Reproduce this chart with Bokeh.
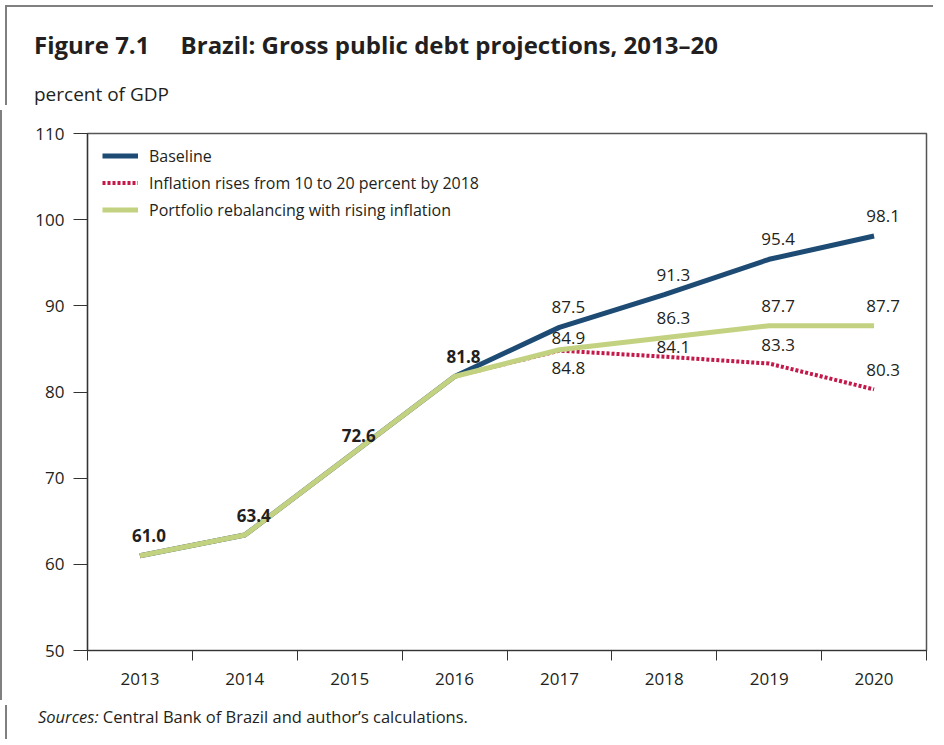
from bokeh.plotting import figure
from bokeh.models import FixedTicker, Legend, LegendItem, Div
from bokeh.layouts import column
from bokeh.core.properties import value
from bokeh.embed import file_html
from bokeh.resources import INLINE

years = ["2013", "2014", "2015", "2016", "2017", "2018", "2019", "2020"]
baseline = [61.0, 63.4, 72.6, 81.8, 87.5, 91.3, 95.4, 98.1]
inflation = [61.0, 63.4, 72.6, 81.8, 84.8, 84.1, 83.3, 80.3]
portfolio = [61.0, 63.4, 72.6, 81.8, 84.9, 86.3, 87.7, 87.7]
y_ticks = [50, 60, 70, 80, 90, 100, 110]
series_names = ["Baseline",
                "Inflation rises from 10 to 20 percent by 2018",
                "Portfolio rebalancing with rising inflation"]
title_text = "Figure 7.1     Brazil: Gross public debt projections, 2013–20"
unit_text = "percent of GDP"
source_label = "Sources:"
source_text = "Central Bank of Brazil and author’s calculations."

FONT = "Open Sans"
TXT = "#231f20"
NAVY = "#1d4b74"
RED = "#c2184a"
GREEN = "#c3d281"
BORDER = "2px solid #808080"

xs = [i + 0.5 for i in range(len(years))]

W = 928
HEAD_H, FIG_H, SRC_H = 100, 590, 34

header = Div(width=W, height=HEAD_H,
             styles={"border-top": BORDER, "border-left": BORDER},
             text=(
    f'<div style="padding:23px 0 0 27px; font-family:\'{FONT}\'; font-weight:bold; '
    f'font-size:24px; line-height:30px; color:{TXT}; white-space:pre; margin:0">{title_text}</div>'
    f'<div style="padding:22px 0 0 27px; font-family:\'{FONT}\'; font-size:19px; '
    f'line-height:24px; color:{TXT}; white-space:nowrap; margin:0">{unit_text}</div>'))

footer = Div(width=W, height=SRC_H, styles={"border-left": BORDER}, text=(
    f'<div style="padding:1px 0 0 31px; font-family:\'{FONT}\'; font-size:16.5px; '
    f'line-height:22px; color:{TXT}; white-space:nowrap; margin:0">'
    f'<i>{source_label}</i> {source_text}</div>'))

p = figure(width=W, height=FIG_H, output_backend="svg", toolbar_location=None,
           x_range=(0, len(years)), y_range=(y_ticks[0], y_ticks[-1]),
           min_border_left=85, min_border_right=4, min_border_top=23,
           min_border_bottom=FIG_H - 23 - 517)
p.styles = {"border-left": BORDER}
p.grid.visible = False
p.outline_line_color = "#555555"
p.outline_line_width = 1.5
p.background_fill_color = "white"
p.border_fill_color = "white"

# axes
xa = p.xaxis[0]
xa.ticker = FixedTicker(ticks=xs, minor_ticks=list(range(len(years) + 1)))
xa.major_label_overrides = {x: y for x, y in zip(xs, years)}
xa.major_tick_in = 0
xa.major_tick_out = 0
xa.minor_tick_in = 0
xa.minor_tick_out = 10
xa.minor_tick_line_color = "#333333"
xa.axis_line_color = "#333333"
xa.axis_line_width = 1.2
xa.major_label_standoff = 12
xa.major_label_text_font = FONT
xa.major_label_text_font_size = "17px"
xa.major_label_text_color = TXT

ya = p.yaxis[0]
ya.ticker = FixedTicker(ticks=y_ticks, minor_ticks=[])
ya.major_tick_in = 0
ya.major_tick_out = 14
ya.major_tick_line_color = "#333333"
ya.axis_line_color = "#333333"
ya.axis_line_width = 1.2
ya.major_label_standoff = 9
ya.major_label_text_font = FONT
ya.major_label_text_font_size = "17px"
ya.major_label_text_color = TXT

# lines
r1 = p.line(xs, baseline, line_color=NAVY, line_width=5)
r2 = p.line(xs, inflation, line_color=RED, line_width=4, line_dash="3 2")
r3 = p.line(xs, portfolio, line_color=GREEN, line_width=5)

legend = Legend(items=[LegendItem(label=series_names[0], renderers=[r1]),
                       LegendItem(label=series_names[1], renderers=[r2]),
                       LegendItem(label=series_names[2], renderers=[r3])],
                location=(10, 422), border_line_alpha=0, background_fill_alpha=0,
                label_text_font=FONT, label_text_font_size="16px",
                label_text_color=TXT, glyph_width=36, glyph_height=27,
                label_height=27, spacing=0, margin=0, padding=5,
                label_standoff=11)
p.add_layout(legend)

# data labels
def labels(xv, yv, yoff, bold=False):
    p.text(xv, yv, text=[f"{v:.1f}" for v in yv], text_align="center",
           text_baseline="middle", x_offset=9, y_offset=yoff,
           text_font=value(FONT), text_font_size="17px", text_color=TXT,
           text_font_style="bold" if bold else "normal")

labels(xs[:4], baseline[:4], -20, bold=True)
labels(xs[4:], baseline[4:], -20)
labels(xs[4:5], portfolio[4:5], -12)
labels(xs[5:], portfolio[5:], -20)
labels(xs[4:5], inflation[4:5], 17)
labels(xs[5:6], inflation[5:6], -10)
labels(xs[6:], inflation[6:], -19)

layout = column(header, p, footer, spacing=0)

open("out.html", "w").write(file_html(layout, INLINE))
